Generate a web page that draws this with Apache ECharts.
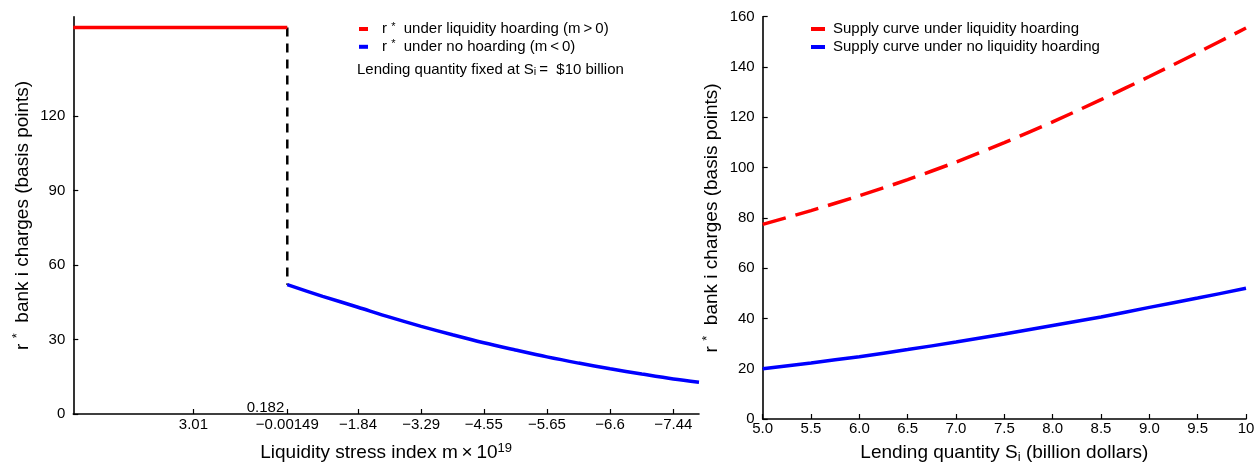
<!DOCTYPE html>
<html>
<head>
<meta charset="utf-8">
<script src="https://cdn.jsdelivr.net/npm/echarts@6/dist/echarts.min.js"></script>
<style>
  html, body { margin: 0; padding: 0; background: #fff; }
  #chart { width: 1257px; height: 464px; }
</style>
</head>
<body>
<div id="chart"></div>
<script>
// ---- Left panel: r* along the liquidity stress index (axis position 0–100) ----
const stressTickPos = [19.2, 34.2, 45.5, 55.6, 65.6, 75.7, 85.8, 95.9];
const stressTickLabels = ['3.01', '\u22120.00149', '\u22121.84', '\u22123.29', '\u22124.55', '\u22125.65', '\u22126.6', '\u22127.44'];
const hoardPos = [0, 34.2];
const hoardRate = [155.7, 155.7];
const noHoardPos = [34.2, 39.85, 45.5, 50.55, 55.6, 60.6, 65.6, 70.65, 75.7, 80.75, 85.8, 90.85, 95.9, 100];
const noHoardRate = [52.1, 47.4, 43.0, 39.0, 35.3, 31.9, 28.7, 25.8, 23.0, 20.5, 18.2, 16.1, 14.1, 12.8];
const switchLabel = '0.182';
const leftYTicks = [0, 30, 60, 90, 120];

// ---- Right panel: supply curves against lending quantity S_i ----
const lending = [5.0, 5.5, 6.0, 6.5, 7.0, 7.5, 8.0, 8.5, 9.0, 9.5, 10.0];
const supplyHoard = [77.4, 82.9, 88.8, 95.2, 102.2, 109.9, 118.2, 127.0, 136.2, 145.7, 155.5];
const supplyNoHoard = [20.0, 22.3, 24.8, 27.6, 30.6, 33.8, 37.2, 40.6, 44.4, 48.1, 52.0];

const leftNames = ['r* under liquidity hoarding (m > 0)', 'r* under no hoarding (m < 0)'];
const rightNames = ['Supply curve under liquidity hoarding', 'Supply curve under no liquidity hoarding'];

const FONT = "'Liberation Sans', Arial, Helvetica, sans-serif";
const RED = '#ff0000', BLUE = '#0000ff', INK = '#000000';

const zip = (xs, ys) => xs.map((x, i) => [x, ys[i]]);
const switchPos = hoardPos[hoardPos.length - 1];
const jumpLine = [[switchPos, hoardRate[hoardRate.length - 1]], [switchPos, noHoardRate[0]]];

const titleRich = {
  t: { fontSize: 19, fontFamily: FONT, color: INK, lineHeight: 22 },
  s: { fontSize: 13, fontFamily: FONT, color: INK, lineHeight: 11, verticalAlign: 'top' },
  b: { fontSize: 13, fontFamily: FONT, color: INK, lineHeight: 11, verticalAlign: 'bottom' }
};
const yTitle = '{t|r }{s|*}{t|  bank i charges (basis points)}';

const textRich = {
  t: { fontSize: 15, fontFamily: FONT, color: INK, lineHeight: 16 },
  s: { fontSize: 11, fontFamily: FONT, color: INK, lineHeight: 9, verticalAlign: 'top' },
  b: { fontSize: 11, fontFamily: FONT, color: INK, lineHeight: 9, verticalAlign: 'bottom' }
};
const legendFormat = name => name.startsWith('r* ')
  ? '{t|r }{s|*}{t|  ' + name.slice(3).replace(' > ', '\u2009>\u2009').replace(' < ', '\u2009<\u2009') + '}'
  : '{t|' + name + '}';
const legendItem = (name, color) => ({
  name: name, icon: 'rect',
  itemStyle: { color: color, borderWidth: 0 },
  lineStyle: { width: 0, type: 'solid' }
});

const axisLineStyle = { show: true, lineStyle: { color: INK, width: 1.6 } };
const tickStyle = { show: true, inside: true, length: 5, lineStyle: { color: INK, width: 1.2 } };
const labelStyle = { fontSize: 15, fontFamily: FONT, color: INK };

const chart = echarts.init(document.getElementById('chart'), null, { renderer: 'canvas' });

chart.setOption({
  animation: false,
  backgroundColor: '#ffffff',
  grid: [
    { left: 73.3, right: 558, top: 16.7, bottom: 50, outerBoundsMode: 'none' },
    { left: 762.7, right: 11, top: 16.7, bottom: 45, outerBoundsMode: 'none' }
  ],
  xAxis: [
    {
      gridIndex: 0, type: 'value', min: 0, max: 100,
      axisLine: axisLineStyle,
      axisTick: Object.assign({}, tickStyle, { customValues: stressTickPos }),
      axisLabel: Object.assign({}, labelStyle, {
        margin: 3,
        customValues: stressTickPos,
        formatter: v => {
          const i = stressTickPos.indexOf(v);
          return i >= 0 ? stressTickLabels[i] : '';
        }
      }),
      splitLine: { show: false },
      name: '{t|Liquidity stress index m\u2009\u00d7\u200910}{s|19}',
      nameLocation: 'middle', nameGap: 28,
      nameTextStyle: { rich: titleRich }
    },
    {
      gridIndex: 1, type: 'value', min: 5, max: 10, interval: 0.5,
      axisLine: axisLineStyle,
      axisTick: tickStyle,
      axisLabel: Object.assign({}, labelStyle, {
        margin: 2,
        formatter: v => (v === 10 ? '10' : v.toFixed(1))
      }),
      splitLine: { show: false },
      name: '{t|Lending quantity S}{b|i}{t| (billion dollars)}',
      nameLocation: 'middle', nameGap: 23,
      nameTextStyle: { rich: titleRich }
    }
  ],
  yAxis: [
    {
      gridIndex: 0, type: 'value', min: 0, max: 160,
      axisLine: axisLineStyle,
      axisTick: Object.assign({}, tickStyle, { customValues: leftYTicks }),
      axisLabel: Object.assign({}, labelStyle, { margin: 8, customValues: leftYTicks }),
      splitLine: { show: false },
      name: yTitle, nameLocation: 'middle', nameGap: 40, nameRotate: 90,
      nameTextStyle: { rich: titleRich }
    },
    {
      gridIndex: 1, type: 'value', min: 0, max: 160, interval: 20,
      axisLine: axisLineStyle,
      axisTick: tickStyle,
      axisLabel: Object.assign({}, labelStyle, { margin: 8 }),
      splitLine: { show: false },
      name: yTitle, nameLocation: 'middle', nameGap: 40, nameRotate: 90,
      nameTextStyle: { rich: titleRich }
    }
  ],
  legend: [
    {
      orient: 'vertical', left: 359, top: 21, padding: 0,
      icon: 'rect', itemWidth: 9, itemHeight: 4, itemGap: 2.3,
      data: [legendItem(leftNames[0], RED), legendItem(leftNames[1], BLUE)],
      formatter: legendFormat, selectedMode: false,
      textStyle: { padding: [0, 0, 0, 9], rich: textRich }
    },
    {
      orient: 'vertical', left: 811, top: 21.5, padding: 0,
      icon: 'rect', itemWidth: 14, itemHeight: 4, itemGap: 3,
      data: [legendItem(rightNames[0], RED), legendItem(rightNames[1], BLUE)],
      formatter: legendFormat, selectedMode: false,
      textStyle: { padding: [0, 0, 0, 3], rich: textRich }
    }
  ],
  graphic: [
    {
      type: 'text', left: 357, top: 62,
      style: {
        text: '{t|Lending quantity fixed at S}{b|i}{t|\u2009=  $10 billion}',
        rich: textRich
      }
    }
  ],
  series: [
    {
      name: leftNames[0], type: 'line', xAxisIndex: 0, yAxisIndex: 0,
      data: zip(hoardPos, hoardRate), showSymbol: false, symbol: 'none',
      itemStyle: { color: RED }, lineStyle: { color: RED, width: 3.5 },
      markPoint: {
        silent: true, symbol: 'circle', symbolSize: 0,
        itemStyle: { color: 'transparent' },
        data: [{ coord: [switchPos, 0] }],
        label: {
          show: true, position: 'top', distance: 0, align: 'right', offset: [-3, 1],
          formatter: switchLabel, fontSize: 15, fontFamily: FONT, color: INK
        }
      },
      z: 3
    },
    {
      name: leftNames[1], type: 'line', xAxisIndex: 0, yAxisIndex: 0,
      data: zip(noHoardPos, noHoardRate), showSymbol: false, symbol: 'none', smooth: 0.3,
      itemStyle: { color: BLUE }, lineStyle: { color: BLUE, width: 3.5 },
      z: 3
    },
    {
      name: 'switch', type: 'line', xAxisIndex: 0, yAxisIndex: 0,
      data: jumpLine, showSymbol: false, symbol: 'none',
      lineStyle: { color: INK, width: 2.5, type: [9, 7] },
      z: 2
    },
    {
      name: rightNames[0], type: 'line', xAxisIndex: 1, yAxisIndex: 1,
      data: zip(lending, supplyHoard), showSymbol: false, symbol: 'none', smooth: 0.3,
      itemStyle: { color: RED }, lineStyle: { color: RED, width: 3.5, type: [24, 10] }
    },
    {
      name: rightNames[1], type: 'line', xAxisIndex: 1, yAxisIndex: 1,
      data: zip(lending, supplyNoHoard), showSymbol: false, symbol: 'none', smooth: 0.3,
      itemStyle: { color: BLUE }, lineStyle: { color: BLUE, width: 3.5 }
    }
  ]
});
</script>
</body>
</html>
